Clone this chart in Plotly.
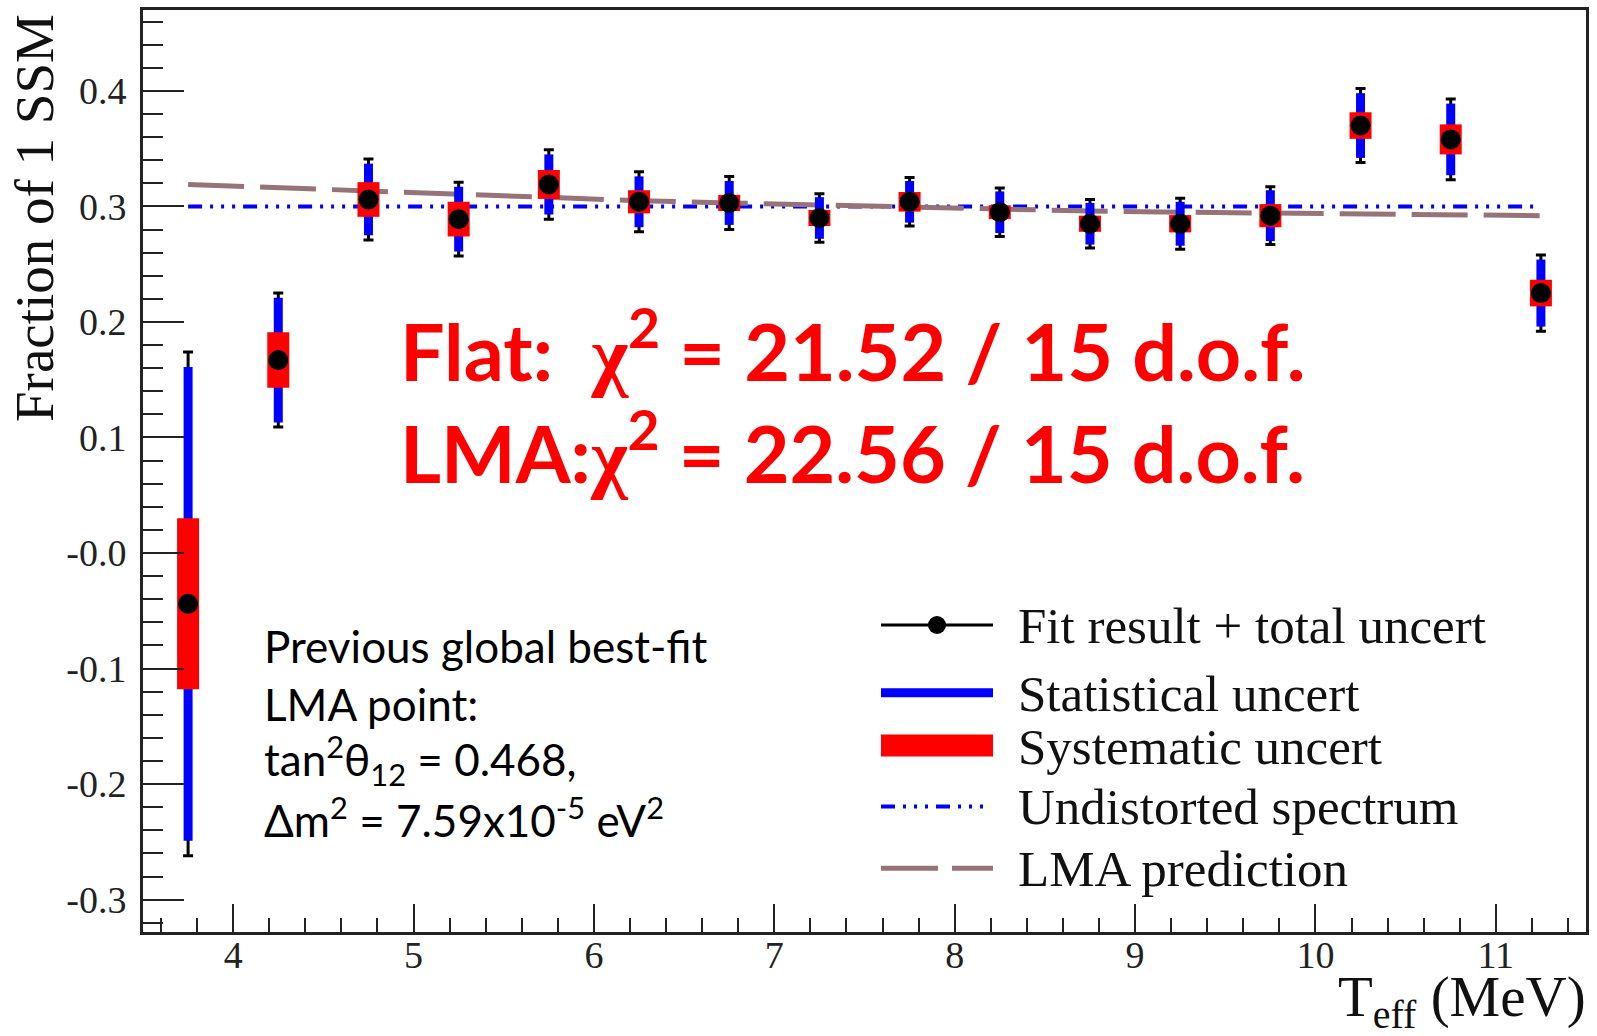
import plotly.graph_objects as go

# ---------------- data ----------------
energy = [3.75, 4.25, 4.75, 5.25, 5.75, 6.25, 6.75, 7.25, 7.75, 8.25, 8.75, 9.25, 9.75, 10.25, 10.75, 11.25]
fraction = [-0.044, 0.167, 0.306, 0.289, 0.319, 0.304, 0.303, 0.290, 0.304, 0.295, 0.285, 0.285, 0.292, 0.370, 0.358, 0.225]
total_err = [0.218, 0.058, 0.035, 0.032, 0.030, 0.026, 0.023, 0.021, 0.021, 0.021, 0.021, 0.022, 0.025, 0.032, 0.035, 0.033]
stat_err = [0.205, 0.054, 0.031, 0.028, 0.026, 0.022, 0.019, 0.018, 0.018, 0.018, 0.018, 0.019, 0.022, 0.028, 0.031, 0.029]
sys_err = [0.074, 0.024, 0.015, 0.015, 0.0125, 0.010, 0.007, 0.007, 0.0085, 0.006, 0.007, 0.0075, 0.010, 0.0115, 0.013, 0.0115]
lma_pred = [0.319, 0.316, 0.313, 0.310, 0.307, 0.305, 0.303, 0.301, 0.300, 0.298, 0.296, 0.295, 0.294, 0.293, 0.293, 0.292]
undistorted_level = 0.30
undistorted_x = [energy[0], energy[-1]]
undistorted_y = [undistorted_level, undistorted_level]

x_ticks = [4, 5, 6, 7, 8, 9, 10, 11]
y_tickvals = [-0.3, -0.2, -0.1, 0.0, 0.1, 0.2, 0.3, 0.4]
y_ticktext = ["-0.3", "-0.2", "-0.1", "-0.0", "0.1", "0.2", "0.3", "0.4"]

legend_labels = ["Fit result + total uncert", "Statistical uncert", "Systematic uncert",
                 "Undistorted spectrum", "LMA prediction"]
note_lines = ["Previous global best-fit", "LMA point:",
              "tan<sup>2</sup>\u03b8<sub>12</sub> = 0.468,",
              "\u0394m<sup>2</sup> = 7.59x10<sup>-5</sup> eV<sup>2</sup>"]
chi_lines = ["Flat:\u00a0\u00a0<span style=\"font-family:'Liberation Serif'\">\u03c7</span><sup>2</sup> = 21.52 / 15 d.o.f.",
             "LMA:<span style=\"font-family:'Liberation Serif'\">\u03c7</span><sup>2</sup> = 22.56 / 15 d.o.f."]

# ---------------- styles ----------------
BLUE = "#0000ff"
RED = "#ff0000"
LMA_COLOR = "#967378"
SERIF = "Liberation Serif"
SANS = "Lato"
W, H = 1597, 1036
L, R, T, B = 143, 1586, 7, 932
UND_DASH = "14px,8px,3px,8px,3px,8px,3px,8px"
LMA_DASH = "56px,16px"


def px(x):
    return (x - L) / (R - L)


def py(y):
    return (B - y) / (B - T)


fig = go.Figure()

fig.add_trace(go.Scatter(x=undistorted_x, y=undistorted_y, mode="lines",
                         line=dict(color=BLUE, width=4, dash=UND_DASH),
                         showlegend=False, hoverinfo="skip"))
fig.add_trace(go.Scatter(x=energy, y=lma_pred, mode="lines",
                         line=dict(color=LMA_COLOR, width=5, dash=LMA_DASH),
                         showlegend=False, hoverinfo="skip"))
# total uncertainty (thin black with caps)
fig.add_trace(go.Scatter(x=energy, y=fraction, mode="markers",
                         marker=dict(size=1, color="rgba(0,0,0,0)"),
                         error_y=dict(type="data", array=total_err, color="black",
                                      thickness=3, width=5),
                         showlegend=False, hoverinfo="skip"))
# statistical
fig.add_trace(go.Scatter(x=energy, y=fraction, mode="markers",
                         marker=dict(size=1, color="rgba(0,0,0,0)"),
                         error_y=dict(type="data", array=stat_err, color=BLUE,
                                      thickness=9, width=0),
                         showlegend=False, hoverinfo="skip"))
# systematic
fig.add_trace(go.Scatter(x=energy, y=fraction, mode="markers",
                         marker=dict(size=1, color="rgba(0,0,0,0)"),
                         error_y=dict(type="data", array=sys_err, color=RED,
                                      thickness=22, width=0),
                         showlegend=False, hoverinfo="skip"))
# central values
fig.add_trace(go.Scatter(x=energy, y=fraction, mode="markers",
                         marker=dict(size=20, color="black"),
                         showlegend=False))

shapes = []
annotations = []

# ---------- custom legend ----------
rows = [624, 692, 745, 806, 868]
sx0, sx1, tx = 881, 993, 1016
# row 1: black line + dot
shapes.append(dict(type="line", xref="paper", yref="paper", x0=px(sx0), x1=px(sx1),
                   y0=py(rows[0]), y1=py(rows[0]), line=dict(color="black", width=3)))
shapes.append(dict(type="circle", xref="paper", yref="paper", xsizemode="pixel", ysizemode="pixel",
                   xanchor=px((sx0 + sx1) / 2), yanchor=py(rows[0]), x0=-9, x1=9, y0=-9, y1=9,
                   fillcolor="black", line=dict(color="black", width=0)))
# row 2: stat
shapes.append(dict(type="line", xref="paper", yref="paper", x0=px(sx0), x1=px(sx1),
                   y0=py(rows[1]), y1=py(rows[1]), line=dict(color=BLUE, width=9)))
# row 3: sys
shapes.append(dict(type="line", xref="paper", yref="paper", x0=px(sx0), x1=px(sx1),
                   y0=py(rows[2]), y1=py(rows[2]), line=dict(color=RED, width=22)))
# row 4: undistorted
shapes.append(dict(type="line", xref="paper", yref="paper", x0=px(sx0), x1=px(sx1 - 5),
                   y0=py(rows[3]), y1=py(rows[3]), line=dict(color=BLUE, width=4, dash=UND_DASH)))
# row 5: LMA
shapes.append(dict(type="line", xref="paper", yref="paper", x0=px(sx0), x1=px(938),
                   y0=py(rows[4]), y1=py(rows[4]), line=dict(color=LMA_COLOR, width=5)))
shapes.append(dict(type="line", xref="paper", yref="paper", x0=px(952), x1=px(sx1),
                   y0=py(rows[4]), y1=py(rows[4]), line=dict(color=LMA_COLOR, width=5)))

for lab, ry in zip(legend_labels, rows):
    annotations.append(dict(text=lab, xref="paper", yref="paper", x=px(tx), y=py(ry + 1),
                            xanchor="left", yanchor="middle", showarrow=False,
                            font=dict(family=SERIF, size=51, color="#111111")))

# ---------- note text ----------
note_y = [645, 703, 760, 817]
for line, ny in zip(note_lines, note_y):
    annotations.append(dict(text=line, xref="paper", yref="paper", x=px(262), y=py(ny),
                            xanchor="left", yanchor="middle", showarrow=False,
                            font=dict(family=SANS, size=44, color="black")))

# ---------- chi2 text ----------
chi_y = [344, 446]
for line, cy in zip(chi_lines, chi_y):
    annotations.append(dict(text=line, xref="paper", yref="paper", x=px(398), y=py(cy),
                            xanchor="left", yanchor="middle", showarrow=False,
                            font=dict(family=SANS, size=79, color=RED, weight="bold")))

# ---------- axis titles ----------
annotations.append(dict(text="Fraction of 1 SSM", xref="paper", yref="paper", x=px(35), y=py(9),
                        xanchor="center", yanchor="top", textangle=-90, showarrow=False,
                        font=dict(family=SERIF, size=55, color="#111111")))
annotations.append(dict(text="T<sub>eff</sub> (MeV)", xref="paper", yref="paper", x=px(1588), y=py(1001),
                        xanchor="right", yanchor="middle", showarrow=False,
                        font=dict(family=SERIF, size=57, color="#111111")))

fig.update_layout(
    width=W, height=H,
    margin=dict(l=L, r=W - R, t=T, b=H - B),
    paper_bgcolor="white", plot_bgcolor="white",
    showlegend=False,
    shapes=shapes, annotations=annotations,
    xaxis=dict(range=[3.5, 11.5], tickmode="array", tickvals=x_ticks,
               ticks="inside", ticklen=28, tickwidth=2, tickcolor="#222",
               minor=dict(ticks="inside", ticklen=14, tickwidth=2, tickcolor="#222",
                          tickmode="linear", tick0=0, dtick=0.2),
               showline=True, linecolor="#222", linewidth=3, mirror=True,
               showgrid=False, zeroline=False, ticklabelstandoff=-13,
               tickfont=dict(family=SERIF, size=38, color="#222")),
    yaxis=dict(range=[-0.328, 0.470], tickmode="array", tickvals=y_tickvals, ticktext=y_ticktext,
               ticks="inside", ticklen=41, tickwidth=2, tickcolor="#222",
               minor=dict(ticks="inside", ticklen=20, tickwidth=2, tickcolor="#222",
                          tickmode="linear", tick0=0, dtick=0.02),
               showline=True, linecolor="#222", linewidth=3, mirror=True,
               showgrid=False, zeroline=False, ticklabelstandoff=6,
               tickfont=dict(family=SERIF, size=38, color="#222")),
)

fig.write_html("out.html", config={"displayModeBar": False},
               post_script="document.body.style.margin='0px';")
